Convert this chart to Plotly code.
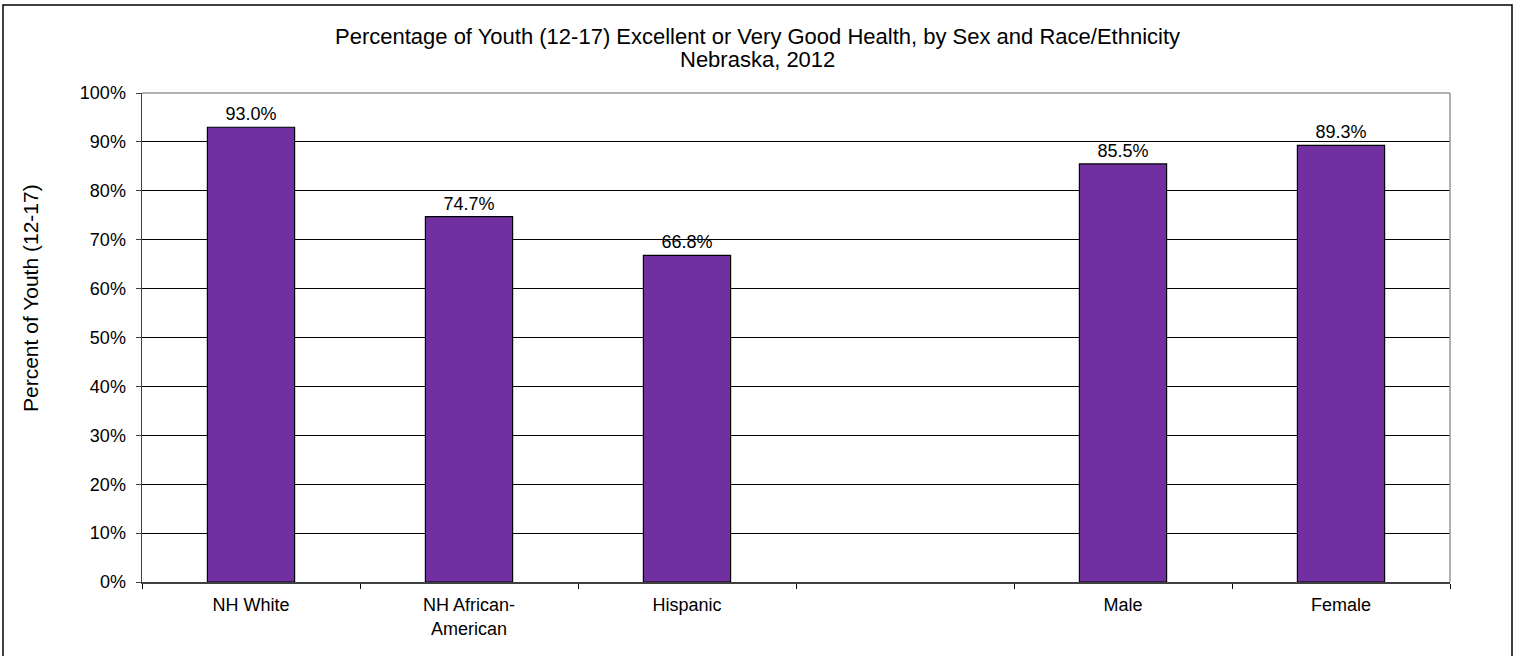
import plotly.graph_objects as go

categories = ["NH White", "NH African-<br>American", "Hispanic", " ", "Male", "Female"]
values = [93.0, 74.7, 66.8, None, 85.5, 89.3]
y_ticks = [0, 10, 20, 30, 40, 50, 60, 70, 80, 90, 100]
y_tick_labels = [f"{v}%" for v in y_ticks]

title_line1 = "Percentage of Youth (12-17) Excellent or Very Good Health, by Sex and Race/Ethnicity"
title_line2 = "Nebraska, 2012"
y_title = "Percent of Youth (12-17)"

FONT = "Arial, Liberation Sans, sans-serif"
W, H = 1520, 656
L, R, T, B = 142, 70, 93, 74
pw, ph = W - L - R, H - T - B

def px_x(px):
    return (px - L) / pw

def px_y(py):
    return (H - B - py) / ph

fig = go.Figure()
fig.add_trace(go.Bar(
    x=categories,
    y=values,
    width=0.4,
    marker=dict(color="#7030A0", line=dict(color="#000000", width=1.2)),
    texttemplate="%{y:.1f}%",
    textposition="outside",
    textfont=dict(family=FONT, size=18, color="#000000"),
    cliponaxis=False,
    hoverinfo="skip",
))

fig.update_layout(
    width=W, height=H,
    margin=dict(l=L, r=R, t=T, b=B, pad=0),
    paper_bgcolor="white",
    plot_bgcolor="white",
    showlegend=False,
    font=dict(family=FONT, size=18, color="#000000"),
    xaxis=dict(
        type="category",
        categoryorder="array",
        categoryarray=categories,
        tickson="boundaries",
        ticks="outside",
        ticklen=5,
        tickcolor="#000000",
        showline=True,
        linecolor="#404040",
        linewidth=1.5,
        mirror=False,
        showgrid=False,
        tickfont=dict(family=FONT, size=18, color="#000000"),
        ticklabelstandoff=6,
        range=[-0.5, 5.5],
        fixedrange=True,
    ),
    yaxis=dict(
        range=[0, 100],
        tickvals=y_ticks,
        ticktext=y_tick_labels,
        ticks="outside",
        ticklen=5,
        tickcolor="#404040",
        showline=True,
        linecolor="#404040",
        linewidth=1.5,
        showgrid=True,
        gridcolor="#000000",
        gridwidth=1,
        zeroline=False,
        tickfont=dict(family=FONT, size=18, color="#000000"),
        ticklabelstandoff=6,
        fixedrange=True,
    ),
    shapes=[
        dict(type="line", xref="paper", yref="paper", x0=0, x1=1, y0=1, y1=1,
             line=dict(color="#999999", width=1.5)),
        dict(type="line", xref="paper", yref="paper", x0=1, x1=1, y0=0, y1=1,
             line=dict(color="#999999", width=1.5)),
        dict(type="rect", xref="paper", yref="paper",
             x0=px_x(3), x1=px_x(1512), y0=px_y(700), y1=px_y(5),
             line=dict(color="#000000", width=1.5), fillcolor="rgba(0,0,0,0)"),
    ],
    annotations=[
        dict(text=title_line1, xref="paper", yref="paper", x=px_x(757), y=px_y(36),
             xanchor="center", yanchor="middle", showarrow=False,
             font=dict(family=FONT, size=22, color="#000000")),
        dict(text=title_line2, xref="paper", yref="paper", x=px_x(757), y=px_y(60),
             xanchor="center", yanchor="middle", showarrow=False,
             font=dict(family=FONT, size=22, color="#000000")),
        dict(text=y_title, xref="paper", yref="paper", x=px_x(30), y=px_y(298),
             xanchor="center", yanchor="middle", textangle=-90, showarrow=False,
             font=dict(family=FONT, size=21, color="#000000")),
    ],
)

fig.write_html(
    "out.html",
    config={"displayModeBar": False, "staticPlot": True},
    post_script="document.body.style.margin='0px';document.body.style.padding='0px';",
)
